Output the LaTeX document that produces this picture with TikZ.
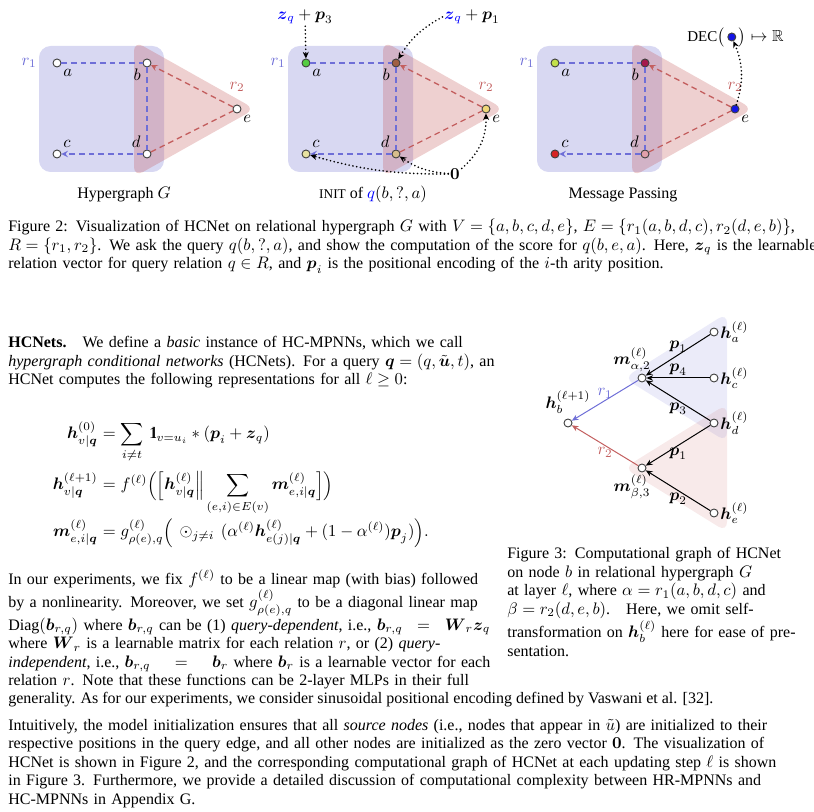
\documentclass[tikz,border=0pt]{standalone}
\usepackage{amsmath, amssymb}
\usepackage{fontspec}
\setmainfont{Liberation Serif}
\usetikzlibrary{arrows.meta, positioning}
\definecolor{hypA}{RGB}{100,100,205}
\definecolor{hypB}{RGB}{195,85,85}
\definecolor{relA}{RGB}{110,110,215}
\definecolor{relB}{RGB}{195,95,95}
\definecolor{initA}{RGB}{85,205,65}
\definecolor{initB}{RGB}{160,95,65}
\definecolor{initC}{RGB}{232,226,160}
\definecolor{initD}{RGB}{215,190,140}
\definecolor{initE}{RGB}{240,215,120}
\definecolor{mpA}{RGB}{195,225,75}
\definecolor{mpB}{RGB}{165,25,75}
\definecolor{mpC}{RGB}{215,35,35}
\definecolor{mpD}{RGB}{225,160,170}
\definecolor{mpE}{RGB}{20,20,230}
\setlength{\parindent}{0pt}
\newcommand{\vb}[1]{\boldsymbol{#1}}
\newcommand{\jl}[1]{\makebox[\hsize][s]{#1}}
\newcommand{\indic}{\mathrm{1}\mkern-5.5mu\mathrm{l}}

\begin{document}
\begin{tikzpicture}[x=0.6pt, y=-0.6pt, >=Stealth, font=\fontsize{9.6}{11.1}\selectfont,
  vtx/.style={circle, draw=black!75, fill=white, inner sep=0pt, minimum size=4.8pt, line width=0.55pt},
  lbl/.style={inner sep=1pt},
  relone/.style={relA, line width=0.8pt, dash pattern=on 3.4pt off 2.4pt},
  reltwo/.style={relB, line width=0.8pt, dash pattern=on 3.4pt off 2.4pt},
  dashtip/.style={-{Stealth[length=4pt, width=4pt, inset=1.6pt]}},
  initarrow/.style={-{Stealth[length=4pt, width=3.6pt]}, line width=1.1pt, dash pattern=on 0pt off 2.3pt, line cap=round},
  msg/.style={-{Stealth[length=4pt, width=3.4pt]}, line width=0.6pt},
  para/.style={inner sep=0pt, anchor=base west, align=left},
  eqn/.style={inner sep=0pt}]
  \useasboundingbox (0,0) rectangle (814,812);

  % Figure 2: the three panels
  \foreach \k/\dx/\fa/\fb/\fc/\fd/\fe in {1/0/white/white/white/white/white,
      2/249/initA/initB/initC/initD/initE, 3/498/mpA/mpB/mpC/mpD/mpE} {
    \begin{scope}[shift={(\dx,0)}, name prefix=p\k-]
      \fill[hypA, opacity=.25, rounded corners=7pt] (39,46) rectangle (164,172);
      \fill[hypB, opacity=.28, rounded corners=6pt] (134,41) -- (134,177) -- (255,109) -- cycle;
      \node[vtx, fill=\fa, label={[lbl, label distance=1pt]-45:$a$}] (a) at (57,63) {};
      \node[vtx, fill=\fb, label={[lbl, label distance=1pt]-135:$b$}] (b) at (147,63) {};
      \node[vtx, fill=\fc, label={[lbl, label distance=1pt]45:$c$}] (c) at (57,154) {};
      \node[vtx, fill=\fd, label={[lbl, label distance=1pt]135:$d$}] (d) at (147,154) {};
      \node[vtx, fill=\fe, label={[lbl, label distance=1pt]-45:$e$}] (e) at (237,109) {};
      \draw[relone, dashtip] (a) -- (b) -- (d) -- (c);
      \draw[reltwo, dashtip] (d) -- (e) -- (b);
      \node[lbl, relA] (r1) at (29,63) {$r_1$};
      \node[lbl, relB] (r2) at (237,87) {$r_2$};
    \end{scope}
  }

  % initialisation of q(b,?,a)
  \node[lbl] (zpa) at (305,17) {$\textcolor{blue}{\vb z_q}+\vb p_3$};
  \node[lbl] (zpb) at (472,17) {$\textcolor{blue}{\vb z_q}+\vb p_1$};
  \node[lbl] (zero) at (455,174) {$\vb 0$};
  \draw[initarrow] (zpa) -- (p2-a);
  \draw[initarrow] (zpb.west) to[bend right=15] (p2-b);
  \draw[initarrow] (zero) to[bend left=8] (p2-c);
  \draw[initarrow] (zero) to[bend left=15] (p2-d);
  \draw[initarrow] (zero) to[bend right=25] (p2-e);

  % decoding the score
  \node[inner sep=0pt, anchor=east] (dec) at (725,37) {{\small DEC}$\big($};
  \node[vtx, fill=mpE, right=1.4pt of dec] (decv) {};
  \node[inner sep=0pt, right=1.4pt of decv] (decr) {$\big)\mapsto\mathbb{R}$};
  \draw[initarrow] (p3-e) to[bend right=20] (decv);

  \node[anchor=base] (capG) at (124,199) {Hypergraph $G$};
  \node[anchor=base] (capI) at (373,199) {{\footnotesize INIT} of $\textcolor{blue}{q}(b,?,a)$};
  \node[anchor=base] (capM) at (623,199) {Message Passing};

  \node[para, text width=471pt] (cap2) at (8,232) {%
    \jl{Figure 2: Visualization of HCNet on relational hypergraph $G$ with $V=\{a,b,c,d,e\}$, $E=\{r_1(a,b,d,c), r_2(d,e,b)\}$,}\\
    \jl{$R=\{r_1,r_2\}$. We ask the query $q(b,?,a)$, and show the computation of the score for $q(b,e,a)$. Here, $\vb z_q$ is the learnable}\\
    relation vector for query relation $q\in R$, and $\vb p_i$ is the positional encoding of the $i$-th arity position.};

  % HCNets paragraph and equations
  \node[para, text width=289.2pt] (hcnet) at (8,348) {%
    \jl{\textbf{HCNets.}\hspace{1em}We define a \emph{basic} instance of HC-MPNNs, which we call}\\
    \jl{\emph{hypergraph conditional networks} (HCNets). For a query $\vb q=(q,\tilde{\vb u},t)$, an}\\
    HCNet computes the following representations for all $\ell\geq 0$:};

  \node[eqn, anchor=base east] (eqAl) at (98,439) {$\vb h^{(0)}_{v|\vb q}$};
  \node[eqn, anchor=base west] (eqAr) at (98,439) {$\displaystyle{}=\sum_{i\neq t}\,\indic_{v=u_i}*(\vb p_i+\vb z_q)$};
  \node[eqn, anchor=base east] (eqBl) at (98,490) {$\vb h^{(\ell+1)}_{v|\vb q}$};
  \node[eqn, anchor=base west] (eqBr) at (98,490) {$\displaystyle{}=f^{(\ell)}\Big(\Big[\vb h^{(\ell)}_{v|\vb q}\Big\|\sum_{(e,i)\in E(v)}\vb m^{(\ell)}_{e,i|\vb q}\Big]\Big)$};
  \node[eqn, anchor=base east] (eqCl) at (98,537) {$\vb m^{(\ell)}_{e,i|\vb q}$};
  \node[eqn, anchor=base west] (eqCr) at (98,537) {$\displaystyle{}=g^{(\ell)}_{\rho(e),q}\Big(\,\odot_{j\neq i}\,(\alpha^{(\ell)}\vb h^{(\ell)}_{e(j)|\vb q}+(1-\alpha^{(\ell)})\vb p_j)\Big).$};

  % Figure 3: computational graph at node b
  \fill[hypA, opacity=.13, rounded corners=6pt] (624,378) -- (727,313) -- (727,442) -- cycle;
  \fill[hypB, opacity=.12, rounded corners=6pt] (624,468) -- (727,404) -- (727,532) -- cycle;
  \node[vtx, label={[lbl, label distance=2pt]above:$\vb h_b^{(\ell+1)}$}] (hb) at (568,423) {};
  \node[vtx, label={[lbl, xshift=-6pt]above:$\vb m^{(\ell)}_{\alpha,2}$}] (ma) at (642,378) {};
  \node[vtx, label={[lbl, xshift=-6pt]below:$\vb m^{(\ell)}_{\beta,3}$}] (mb) at (642,468) {};
  \node[vtx, label={[lbl]right:$\vb h_a^{(\ell)}$}] (ha) at (714,332) {};
  \node[vtx, label={[lbl]right:$\vb h_c^{(\ell)}$}] (hc) at (714,378) {};
  \node[vtx, label={[lbl]right:$\vb h_d^{(\ell)}$}] (hd) at (714,423) {};
  \node[vtx, label={[lbl]right:$\vb h_e^{(\ell)}$}] (he) at (714,513) {};
  \draw[msg] (ha) -- node[lbl, above] (pa) {$\vb p_1$} (ma);
  \draw[msg] (hc) -- node[lbl, above] (pc) {$\vb p_4$} (ma);
  \draw[msg] (hd) -- node[lbl, below] (pd) {$\vb p_3$} (ma);
  \draw[msg] (hd) -- node[lbl, below] (qd) {$\vb p_1$} (mb);
  \draw[msg] (he) -- node[lbl, below] (qe) {$\vb p_2$} (mb);
  \draw[msg, relA] (ma) -- node[lbl, above] (ra) {$r_1$} (hb);
  \draw[msg, relB] (mb) -- node[lbl, below] (rb) {$r_2$} (hb);

  \node[para, text width=170.4pt] (cap3) at (507,559) {\thickmuskip=5mu\medmuskip=4mu%
    \jl{Figure 3: Computational graph of HCNet}\\
    \jl{on node $b$ in relational hypergraph $G$}\\
    \jl{at layer $\ell$, where $\alpha=r_1(a,b,d,c)$ and}\\
    \jl{$\beta=r_2(d,e,b)$.\quad Here, we omit self-}\\
    \jl{transformation on $\vb h_b^{(\ell)}$ here for ease of pre-}\\
    sentation.};

  % remaining text
  \node[para, text width=289.2pt] (expt) at (8,585) {%
    \jl{In our experiments, we fix $f^{(\ell)}$ to be a linear map (with bias) followed}\\
    \jl{by a nonlinearity. Moreover, we set $g^{(\ell)}_{\rho(e),q}$ to be a diagonal linear map}\\
    \jl{Diag$(\vb b_{r,q})$ where $\vb b_{r,q}$ can be (1) \emph{query-dependent}, i.e., $\vb b_{r,q}=\vb W_r\vb z_q$}\\
    \jl{where $\vb W_r$ is a learnable matrix for each relation $r$, or (2) \emph{query-}}\\
    \jl{\emph{independent}, i.e., $\vb b_{r,q}=\vb b_r$ where $\vb b_r$ is a learnable vector for each}\\
    \jl{relation $r$. Note that these functions can be 2-layer MLPs in their full}};
  \node[para] (gen) at (8,703) {generality. As for our experiments, we consider sinusoidal positional encoding defined by Vaswani et al. [32].};

  \node[para, text width=471pt] (intu) at (8,730) {%
    \jl{Intuitively, the model initialization ensures that all \emph{source nodes} (i.e., nodes that appear in $\tilde{u}$) are initialized to their}\\
    \jl{respective positions in the query edge, and all other nodes are initialized as the zero vector $\vb 0$. The visualization of}\\
    \jl{HCNet is shown in Figure 2, and the corresponding computational graph of HCNet at each updating step $\ell$ is shown}\\
    \jl{in Figure 3. Furthermore, we provide a detailed discussion of computational complexity between HR-MPNNs and}\\
    HC-MPNNs in Appendix G.};
\end{tikzpicture}
\end{document}
